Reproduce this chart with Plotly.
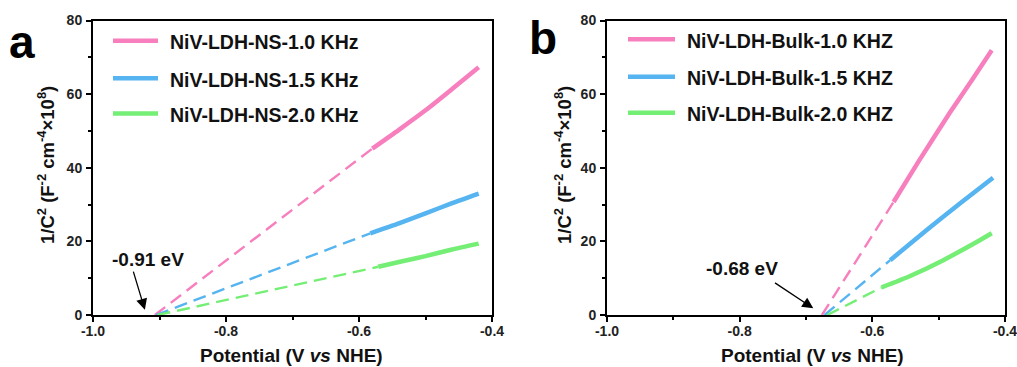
import plotly.graph_objects as go

# ---- Mott-Schottky data (1/C^2 in F^-2 cm^-4 x 10^8 vs potential in V vs NHE) ----
SERIES_NS = ["NiV-LDH-NS-1.0 KHz", "NiV-LDH-NS-1.5 KHz", "NiV-LDH-NS-2.0 KHz"]
SERIES_BULK = ["NiV-LDH-Bulk-1.0 KHZ", "NiV-LDH-Bulk-1.5 KHZ", "NiV-LDH-Bulk-2.0 KHZ"]

# nanosheet sample: measured segments
V_NS_10 = [-0.580, -0.540, -0.500, -0.460, -0.420]
C_NS_10 = [45.2, 50.3, 55.6, 61.4, 67.3]
V_NS_15 = [-0.583, -0.540, -0.500, -0.460, -0.420]
C_NS_15 = [22.2, 24.9, 27.6, 30.4, 33.0]
V_NS_20 = [-0.571, -0.535, -0.500, -0.460, -0.420]
C_NS_20 = [13.1, 14.6, 16.0, 17.8, 19.4]
# x-intercepts of the linear fits
X0_NS = [-0.907, -0.905, -0.903]

# bulk sample: measured segments
V_BULK_10 = [-0.568, -0.530, -0.483, -0.450, -0.420]
C_BULK_10 = [30.7, 41.8, 55.0, 63.8, 71.9]
V_BULK_15 = [-0.573, -0.518, -0.468, -0.418]
C_BULK_15 = [14.9, 23.1, 30.3, 37.3]
V_BULK_20 = [-0.586, -0.543, -0.493, -0.442, -0.420]
C_BULK_20 = [7.5, 10.6, 14.9, 19.9, 22.2]
X0_BULK = [-0.676, -0.672, -0.668]

FLATBAND_LABELS = ["-0.91 eV", "-0.68 eV"]

X_TICKS = [-1.0, -0.8, -0.6, -0.4]
X_TICK_TEXT = ["-1.0", "-0.8", "-0.6", "-0.4"]
Y_TICKS = [0, 20, 40, 60, 80]

COLORS = ["#F77FBE", "#56B4F0", "#74EE74"]

W, H = 1017, 367
FONT = "Arial, Liberation Sans, sans-serif"


def fx(p):
    return p / W


def fy(p):
    return 1 - p / H


fig = go.Figure()

panels = [
    ("x", "y", SERIES_NS, [(V_NS_10, C_NS_10), (V_NS_15, C_NS_15), (V_NS_20, C_NS_20)], X0_NS),
    ("x2", "y2", SERIES_BULK, [(V_BULK_10, C_BULK_10), (V_BULK_15, C_BULK_15), (V_BULK_20, C_BULK_20)], X0_BULK),
]

for xa, ya, names, data, x0s in panels:
    for (v, c), x0, col, name in zip(data, x0s, COLORS, names):
        # extrapolated linear fit down to the potential axis
        fig.add_trace(go.Scatter(
            x=[x0, v[0]], y=[0, c[0]], mode="lines", xaxis=xa, yaxis=ya,
            line=dict(color=col, width=2.4, dash="13px,7px"), showlegend=False,
            hoverinfo="skip"))
        # measured region
        fig.add_trace(go.Scatter(
            x=v, y=c, mode="lines", xaxis=xa, yaxis=ya, name=name,
            line=dict(color=col, width=4.5, shape="spline", smoothing=0.6), showlegend=False))

axis_common = dict(
    showline=True, linewidth=2, linecolor="black", mirror=True, automargin=False,
    ticks="outside", ticklen=5, tickwidth=1.5, tickcolor="black",
    showgrid=False, zeroline=False, ticklabeloverflow="allow",
    tickfont=dict(family=FONT, size=14, color="#222", weight="bold"),
)

xdomL = [fx(93), fx(492)]
xdomR = [fx(607), fx(1005)]
ydom = [fy(315), fy(20.5)]

xaxis_common = dict(axis_common, range=[-1.0, -0.4], tickvals=X_TICKS, ticktext=X_TICK_TEXT,
                    minor=dict(ticks="outside", ticklen=3, tickwidth=1.5, tickcolor="black", dtick=0.1,
                               tick0=-1.0),
                    ticklabelstandoff=-3)
yaxis_common = dict(axis_common, range=[0, 80], tickvals=Y_TICKS,
                    minor=dict(ticks="outside", ticklen=3, tickwidth=1.5, tickcolor="black", dtick=10,
                               tick0=0),
                    ticklabelstandoff=1)

fig.update_layout(
    width=W, height=H, margin=dict(l=0, r=0, t=0, b=0, autoexpand=False),
    paper_bgcolor="white", plot_bgcolor="white", showlegend=False,
    xaxis=dict(xaxis_common, domain=xdomL, anchor="y"),
    yaxis=dict(yaxis_common, domain=ydom, anchor="x"),
    xaxis2=dict(xaxis_common, domain=xdomR, anchor="y2"),
    yaxis2=dict(yaxis_common, domain=ydom, anchor="x2"),
)

annotations = []
shapes = []

# legends drawn as swatch + label
legend_specs = [
    (SERIES_NS, 113, 158, 168, [40.7, 78.3, 113.5]),
    (SERIES_BULK, 628, 675, 685, [39.3, 76.7, 112.7]),
]
for names, lx0, lx1, tx, ys in legend_specs:
    for name, col, yy in zip(names, COLORS, ys):
        shapes.append(dict(type="line", xref="paper", yref="paper",
                           x0=fx(lx0), x1=fx(lx1), y0=fy(yy), y1=fy(yy),
                           line=dict(color=col, width=4.5)))
        annotations.append(dict(xref="paper", yref="paper", x=fx(tx), y=fy(yy + 1.5),
                                xanchor="left", yanchor="middle", showarrow=False, text=name,
                                font=dict(family=FONT, size=19.5, color="#111", weight="bold")))

# panel letters
for letter, cx, cy in [("a", 22, 42), ("b", 543, 38)]:
    annotations.append(dict(xref="paper", yref="paper", x=fx(cx), y=fy(cy), xanchor="center",
                            yanchor="middle", showarrow=False, text=letter,
                            font=dict(family=FONT, size=46, color="black", weight="bold")))

# axis titles
ytitle = "1/C<sup>2</sup> (F<sup>-2</sup> cm<sup>-4</sup>×10<sup>8</sup>)"
xtitle = "Potential (V <i>vs</i> NHE)"
for cx in [46, 563]:
    annotations.append(dict(xref="paper", yref="paper", x=fx(cx), y=fy(165), xanchor="center",
                            yanchor="middle", showarrow=False, text=ytitle, textangle=-90,
                            font=dict(family=FONT, size=18.5, color="#111", weight="bold")))
for cx in [291, 812]:
    annotations.append(dict(xref="paper", yref="paper", x=fx(cx), y=fy(355), xanchor="center",
                            yanchor="middle", showarrow=False, text=xtitle,
                            font=dict(family=FONT, size=19, color="#111", weight="bold")))

# flat-band potential labels with arrows
flat = [
    ("x", "y", FLATBAND_LABELS[0], (-0.917, 15.0), (-0.940, 12.2), (-0.922, 1.4)),
    ("x2", "y2", FLATBAND_LABELS[1], (-0.797, 12.5), (-0.749, 9.0), (-0.689, 1.8)),
]
for xa, ya, lab, tpos, tail, tip in flat:
    annotations.append(dict(xref=xa, yref=ya, x=tpos[0], y=tpos[1], showarrow=False, text=lab,
                            xanchor="center", yanchor="middle",
                            font=dict(family=FONT, size=19, color="#111", weight="bold")))
    annotations.append(dict(xref=xa, yref=ya, x=tip[0], y=tip[1], axref=xa, ayref=ya,
                            ax=tail[0], ay=tail[1], text="", showarrow=True,
                            arrowhead=2, arrowsize=1.7, arrowwidth=1.3, arrowcolor="black"))

fig.update_layout(annotations=annotations, shapes=shapes)

fig.write_html("out.html")
